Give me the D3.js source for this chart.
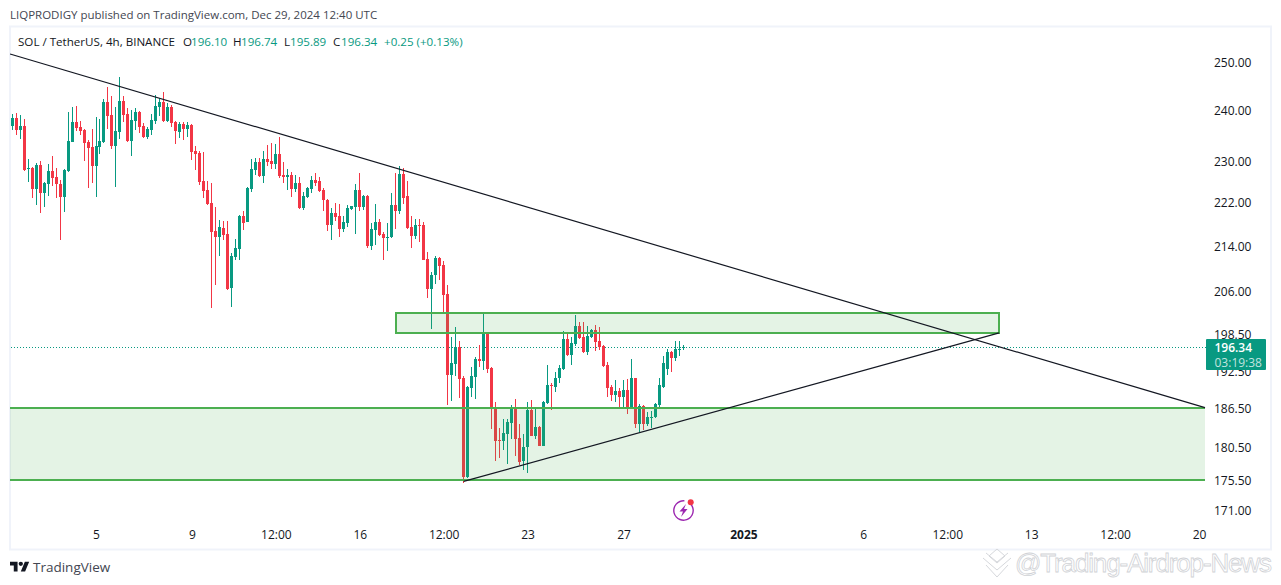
<!DOCTYPE html>
<html>
<head>
<meta charset="utf-8">
<script src="https://cdn.jsdelivr.net/npm/d3@7/dist/d3.min.js"></script>
<style>
html,body{margin:0;padding:0;background:#fff;overflow:hidden}
svg{display:block}
text{font-family:"Open Sans",sans-serif}
</style>
</head>
<body>
<svg id="c" width="1281" height="585"></svg>
<script>
const openP=[236.8,238.4,236,236.8,228.3,228.5,224.5,229.1,223.7,225.4,227.9,226.8,225.4,222.9,227.9,233.6,237.6,236.6,236,233.6,232.6,228.9,232.6,233.6,241.6,239,232.8,235.6,241.8,239.2,233.8,237.8,239.6,236.8,234.6,236,237.8,240.6,241.6,237.8,240.6,237.6,235.6,237.2,236.2,237,231.9,231.5,226,224.3,221.8,216.6,215.5,217.2,216,206.4,211.9,213.4,219.4,218.3,224.5,228.1,229.7,227,230.3,229.9,229.3,231.3,227.2,226.8,227.2,224.5,225.6,220.9,222.9,224.5,226.2,226,224.3,222.4,217.7,220,219.4,217,218.1,220.7,221.1,224.3,221.1,223.1,213.9,216.8,218.3,216,215.4,215.4,221.4,220.3,227.4,223.1,217.4,215.7,217.7,217.7,211.6,206.2,208.7,211.7,210.5,205.4,191.7,193.5,196.3,191.2,175.8,189.6,191.3,194.3,194,198.7,192.9,186.6,181.5,181.3,182.4,184.1,186.6,181.8,178.2,180.4,186.1,182.1,183.5,180.6,187.2,190.1,189.8,191.2,192.7,197.7,195,196.8,199.9,198,195.5,198,199.2,197.3,196.5,193.4,189.8,188.5,189.1,188.2,189.3,186.4,191.2,183.9,186.8,183.9,184.9,184.9,186.9,189.8,192.7,195.5,194.5,195.8,196.10];
const highP=[239.2,239.4,239,238.2,230.3,228.7,229.5,229.9,225.8,229.3,230.8,228.5,226.2,228.3,239.6,240.6,240.8,237.8,236.2,234,236.2,238.6,238.2,242.3,244.8,242.9,240.6,246.8,242.9,240.4,240,240.4,239.8,237.4,236.6,239.2,243.1,242.5,243.7,241.4,241,237.8,237.6,237.6,237.6,237.2,232.8,231.9,231.7,226,225.6,221.1,218.7,218.5,218.5,212.6,215.2,219.6,220.3,224.9,230.3,230.5,230.5,231.8,233,233.4,233.2,234.6,229.7,228.3,227.7,227.2,226.8,223.9,224.9,227,227.5,226.8,224.7,222.6,220.9,221.8,221.6,219.4,221.4,221.3,225.4,227.5,223.3,223.3,218.1,221.6,218.9,216.4,218.1,223.7,227.5,228.9,228.5,226,219.4,218.9,218.9,218.3,212.8,209.2,212.1,211.9,211.2,206.9,198,199.7,197.3,191.5,190,193,194.7,196.6,201.9,198.9,193,187.4,183.3,184.7,184.7,186.9,187.9,183.9,182.4,187.4,187.7,186.6,183.6,187.5,193.4,190.4,192.2,193.4,199,198.5,198,201.7,200.6,200.6,199.9,199.4,200,199.7,196.6,193.9,190.1,190.9,189.6,190.9,191.1,194.3,191.3,187,186.9,185.8,186,187.2,191.2,194.8,196,195.6,197.3,197.3,196.74];
const lowP=[236,235,234.2,227.9,225.8,222.8,221.4,220,221.1,223.1,225,222.8,215,220.1,227.7,233.6,235.8,235,229.9,224.7,225.6,222.9,231.3,233.4,236.2,232.2,224.9,234.2,237.6,233.6,230.8,236,235.4,234.4,234.2,235,237.2,238.8,237.7,237.6,236.6,233.2,234.4,234,234.6,230.1,228.1,225.2,222.8,221.5,202.9,206.9,212.1,215,206.1,203.1,211.4,211.4,216.8,218.2,223.9,227.2,226.8,225.6,228.9,228.3,228.3,226.6,225.6,224.3,222.9,223.9,220.7,220.5,222.8,223.7,225,223.9,220.3,216.6,215,218.5,215.5,216.4,217.4,220.5,216,220.3,220.5,213.5,213.2,214.1,215.7,211.4,213,215.3,217,219.8,221.6,217,213.5,215.2,214.6,211.3,204.7,199.4,207.1,207.8,202.3,186.9,187.5,191.5,188,174.9,175.7,188.2,187.9,193,192.5,192,183.2,178.2,178.7,179.9,177.8,181.6,179,177.6,176.9,176.4,182,181.6,180.5,180.5,187,186.1,189,190.4,192.6,194.8,193.4,196.5,197.7,195.3,195,197.8,195.6,195.8,193.1,188.2,187.5,187.4,186.4,186.6,185.5,186.3,183.3,182.7,183,183.6,183.3,184.8,186.6,189.6,191.8,192.3,194,194.8,195.89];
const closeP=[238.4,236,236.8,228.1,228.5,224.5,229.1,223.7,225.6,227.9,226.6,225.4,222.9,228.1,233.8,237.6,236.4,235.8,233.4,232.4,228.9,232.8,233.8,241.6,238.8,232.8,235.8,241.8,239,233.8,238,239.6,236.6,234.6,236.2,238,240.8,241.6,237.8,240.6,237.4,235.8,237.2,236.2,237,231.7,231.3,225.8,224.1,221.6,216.4,215.5,217.4,215.9,206.2,212.1,213.5,219.4,218.1,224.7,228.3,229.7,227,230.3,229.7,229.3,231.3,227,226.8,227.2,224.5,225.6,220.9,223.1,224.7,226.2,225.6,224.1,222.4,217.7,220,219.2,217,218.3,220.9,221.2,224.3,221.1,223.1,213.9,217,218.3,215.9,215.2,215.5,221.4,220.3,227.4,222.9,217.2,215.7,217.7,217.6,211.4,206.2,208.7,211.7,210.3,205.2,191.7,193.7,196.3,191.1,175.8,189.8,191.5,194.3,194,198.7,192.7,186.4,181.3,181.3,182.5,184.2,186.6,181.6,178.2,180.4,186.1,182.1,183.5,180.6,187.4,190.1,189.9,191.3,192.9,197.7,195,197,199.9,197.8,195.5,198.2,199.2,197.2,196.3,193.2,189.6,188.5,189.1,188.2,189.3,186.4,191.2,183.9,186.8,183.9,185,185,187,190.1,193.7,195.5,194.5,196,196,196.34];

const firstBar=Date.UTC(2024,11,1,12);
const barHours=4;

const priceTicks=[250,240,230,222,214,206,198.5,192.5,186.5,180.5,175.5,171];
const timeTickDates=["2024-12-05","2024-12-09","2024-12-12T12:00","2024-12-16","2024-12-19T12:00","2024-12-23","2024-12-27","2025-01-01","2025-01-06","2025-01-09T12:00","2025-01-13","2025-01-16T12:00","2025-01-20"];
const timeTickLabels=["5","9","12:00","16","12:00","23","27","2025","6","12:00","13","12:00","20"];

const zoneLowPrices=[186.4,175.4];
const zoneLowTimes=["2024-12-01T10:00","2025-01-20T06:00"];
const zoneHighPrices=[202.1,198.7];
const zoneHighTimes=["2024-12-17T12:00","2025-01-11T16:00"];
const trendDownPrices=[251.7,186.5];
const trendDownTimes=["2024-12-01T10:00","2025-01-20T06:00"];
const trendUpPrices=[175.2,198.7];
const trendUpTimes=["2024-12-20T08:00","2025-01-11T16:00"];

const lastPrice=196.34;
const countdown="03:19:38";
const legendParts=[["SOL / TetherUS, 4h, BINANCE",18,"#131722"],["O",183,"#131722"],["196.10",191,"#089981"],["H",233,"#131722"],["196.74",241,"#089981"],["L",284,"#131722"],["195.89",290,"#089981"],["C",333,"#131722"],["196.34",341,"#089981"],["+0.25 (+0.13%)",384,"#089981"]];

const UP="#089981",DOWN="#F23645",ZONE="#4CAF50";
const utc=s=>new Date(s+(s.length===10?"T00:00":"")+"Z");
const x=d3.scaleUtc().domain([utc("2024-12-05"),utc("2025-01-20")]).range([96,1199]);
const y=d3.scaleLog().domain([171,250]).range([510,62]);
const svg=d3.select("#c");

svg.append("rect").attr("x",10).attr("y",26.5).attr("width",1261).attr("height",523)
  .attr("fill","#fff").attr("stroke","#F0F3FA").attr("stroke-width",2);

svg.append("text").attr("x",10).attr("y",18.5).attr("font-size",11.5).attr("fill","#434651")
  .text("LIQPRODIGY published on TradingView.com, Dec 29, 2024 12:40 UTC");
svg.append("g").selectAll("text").data(legendParts).join("text")
  .attr("x",d=>d[1]).attr("y",45.5).attr("font-size",11.6).attr("fill",d=>d[2]).text(d=>d[0]);

svg.append("line").attr("x1",11).attr("x2",1206).attr("y1",Math.floor(y(lastPrice))+0.5).attr("y2",Math.floor(y(lastPrice))+0.5)
  .attr("stroke",UP).attr("stroke-width",1).attr("stroke-dasharray","1 2");

const bars=d3.range(openP.length).map(i=>({t:new Date(firstBar+i*barHours*3600e3),o:openP[i],h:highP[i],l:lowP[i],c:closeP[i]}));
const g=svg.append("g").attr("shape-rendering","crispEdges");
const col=d=>d.c>=d.o?UP:DOWN;
const px=d=>Math.round(x(d.t)-0.5)+0.5;
g.selectAll("line").data(bars).join("line")
  .attr("x1",px).attr("x2",px).attr("y1",d=>Math.round(y(d.h))).attr("y2",d=>Math.round(y(d.l)))
  .attr("stroke",col).attr("stroke-width",1);
g.selectAll("rect").data(bars).join("rect")
  .attr("x",d=>px(d)-1.5).attr("width",3)
  .attr("y",d=>Math.round(y(Math.max(d.o,d.c))))
  .attr("height",d=>Math.max(1,Math.round(Math.abs(y(d.o)-y(d.c)))))
  .attr("fill",col);

const zone=(ts,ps,box)=>{
  const x0=Math.round(x(utc(ts[0]))),x1=Math.round(x(utc(ts[1]))),y0=Math.round(y(ps[0])),y1=Math.round(y(ps[1]));
  svg.append("rect").attr("x",x0).attr("y",y0).attr("width",x1-x0).attr("height",y1-y0)
    .attr("fill",ZONE).attr("fill-opacity",0.15);
  if(box){
    svg.append("rect").attr("x",x0).attr("y",y0).attr("width",x1-x0).attr("height",y1-y0)
      .attr("fill","none").attr("stroke",ZONE).attr("stroke-width",2);
  }else{
    [y0,y1].forEach(v=>svg.append("line").attr("x1",x0).attr("x2",x1).attr("y1",v).attr("y2",v)
      .attr("stroke",ZONE).attr("stroke-width",2));
  }
};
zone(zoneLowTimes,zoneLowPrices,false);
zone(zoneHighTimes,zoneHighPrices,true);

[[trendDownTimes,trendDownPrices],[trendUpTimes,trendUpPrices]].forEach(([t,p])=>{
  svg.append("line").attr("x1",x(utc(t[0]))).attr("x2",x(utc(t[1])))
    .attr("y1",y(p[0])).attr("y2",y(p[1]))
    .attr("stroke","#131722").attr("stroke-width",1.2);
});

const yAxis=d3.axisRight(y).tickValues(priceTicks).tickFormat(d3.format(".2f")).tickSize(0).tickPadding(0);
const ya=svg.append("g").attr("transform","translate(1214,1)").call(yAxis);
ya.select(".domain").remove();
ya.selectAll("text").attr("font-size",12).attr("fill","#131722").style("font-family",'"Open Sans",sans-serif');

const xAxis=d3.axisBottom(x).tickValues(timeTickDates.map(utc)).tickFormat((d,i)=>timeTickLabels[i]).tickSize(0).tickPadding(0);
const xa=svg.append("g").attr("transform","translate(0,530)").call(xAxis);
xa.select(".domain").remove();
xa.selectAll("text").attr("font-size",12).attr("fill","#131722").style("font-family",'"Open Sans",sans-serif')
  .attr("font-weight",(d,i)=>timeTickLabels[i]==="2025"?700:400);

svg.append("rect").attr("x",1206).attr("y",339).attr("width",60).attr("height",31).attr("rx",1).attr("fill",UP);
svg.append("text").attr("x",1214.5).attr("y",351.5).attr("font-size",12).attr("font-weight",600).attr("fill","#fff").text(d3.format(".2f")(lastPrice));
svg.append("text").attr("x",1214.5).attr("y",366.5).attr("font-size",12).attr("fill","#fff").attr("fill-opacity",0.75).text(countdown);

const ic=svg.append("g").attr("transform","translate(683.5,510.5)");
ic.append("path").attr("d",d3.arc()({innerRadius:9,outerRadius:10.4,startAngle:0.65,endAngle:2*Math.PI+0.1})).attr("fill","#9C27B0");
ic.append("path").attr("d","M2.5-6.5 L-4 1 H-0.5 L-2.5 6.5 L4-1.5 H0.5 Z").attr("fill","#9C27B0");
ic.append("circle").attr("cx",7.2).attr("cy",-8.2).attr("r",3).attr("fill","#F23645");

const logo=svg.append("g").attr("transform","translate(10,559.5) scale(0.54)");
logo.append("path").attr("d","M14 22H7V11H0V4h14v18zM28 22h-8l7.5-18h8L28 22z").attr("fill","#131722");
logo.append("circle").attr("cx",20).attr("cy",8).attr("r",4).attr("fill","#131722");
svg.append("text").attr("x",33).attr("y",572).attr("font-size",13.5).attr("fill","#434651").text("TradingView");

const wm=svg.append("g").attr("fill","none").attr("stroke","#D6D8DC").attr("stroke-width",1);
wm.append("path").attr("d","M997 549 L1005 556 L997 563 L989 556 Z M983 558 L990 564 L997 570 L1004 564 L1011 558 M986 553 L997 562 L1008 553 M986 565 L997 577 L1008 565");
svg.append("text").attr("x",1015).attr("y",572).attr("font-size",26).attr("fill","#fff")
  .attr("stroke","#D0D2D6").attr("stroke-width",0.8).style("font-family",'"Liberation Sans",sans-serif')
  .attr("textLength",257).text("@Trading-Airdrop-News");
</script>
</body>
</html>
